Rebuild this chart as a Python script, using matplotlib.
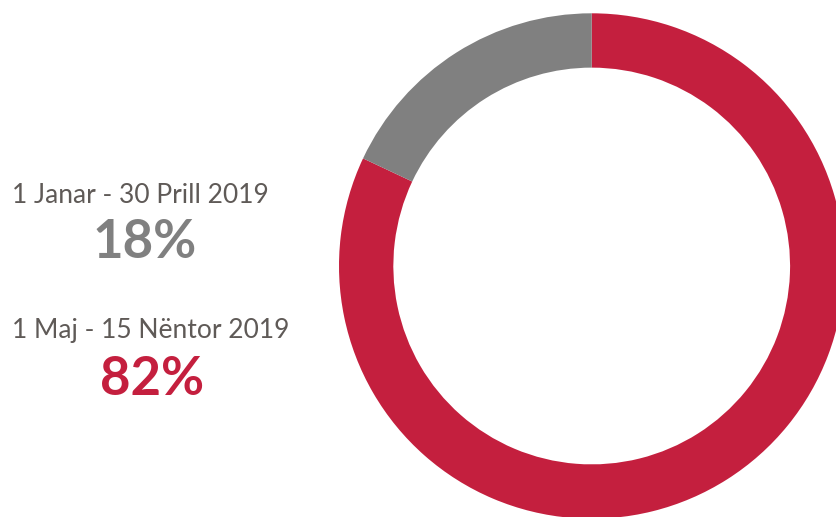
import matplotlib.pyplot as plt

# data
periods = ['1 Janar - 30 Prill 2019', '1 Maj - 15 Nëntor 2019']
shares = [18, 82]
colors = ['#808080', '#C41F3E']
text_color = '#5F5A57'

W, H = 836, 517
fig = plt.figure(figsize=(W / 100, H / 100), dpi=100)

# donut axes, placed in pixels
cx, cy, r = 591.7, 266, 252.7
ax = fig.add_axes([(cx - r) / W, (H - cy - r) / H, 2 * r / W, 2 * r / H])
ax.pie([shares[1], shares[0]], colors=[colors[1], colors[0]], startangle=90,
       counterclock=False, radius=1, wedgeprops=dict(width=0.215, linewidth=0))
ax.set_xlim(-1, 1)
ax.set_ylim(-1, 1)
ax.set_aspect('equal')
ax.axis('off')

# labels on the left
fig.text(12 / W, 1 - 203 / H, periods[0], fontsize=19, family='Lato',
         color=text_color, va='baseline', ha='left')
fig.text(145 / W, 1 - 258 / H, f'{shares[0]}%', fontsize=38, family='Lato',
         fontweight='bold', color=colors[0], va='baseline', ha='center')
fig.text(12 / W, 1 - 338 / H, periods[1], fontsize=19, family='Lato',
         color=text_color, va='baseline', ha='left')
fig.text(152 / W, 1 - 395 / H, f'{shares[1]}%', fontsize=38, family='Lato',
         fontweight='bold', color=colors[1], va='baseline', ha='center')

fig.savefig('out.png', dpi=100)
